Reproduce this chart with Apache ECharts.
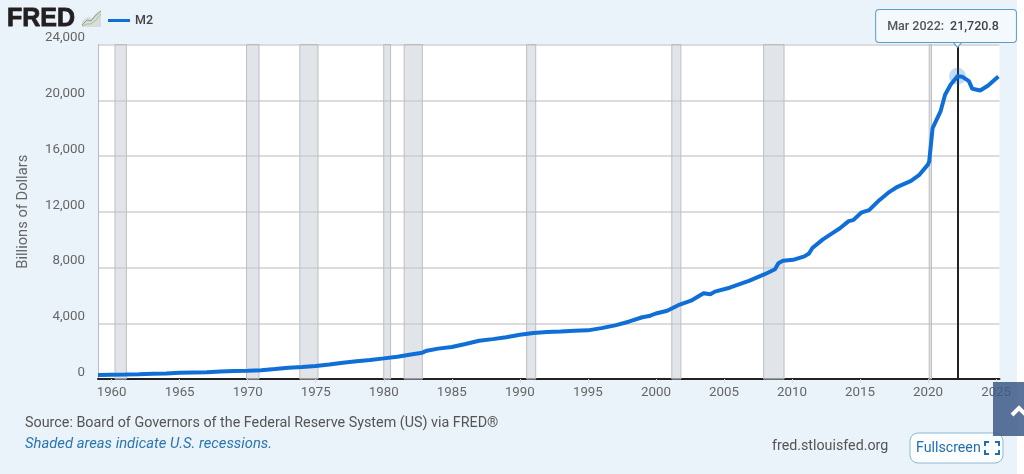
<!DOCTYPE html>
<html>
<head>
<meta charset="utf-8">
<style>
  html, body { margin: 0; padding: 0; background: #fff; }
  #chart { width: 1024px; height: 474px; }
</style>
<script src="https://cdn.jsdelivr.net/npm/echarts@6/dist/echarts.min.js"></script>
</head>
<body>
<div id="chart"></div>
<script>
// M2, billions of dollars
var dates = ['1959-01','1960-01','1961-01','1962-01','1963-01','1964-01','1965-01','1966-01','1967-01','1968-01',
  '1969-01','1970-01','1971-01','1972-01','1973-01','1974-01','1975-01','1976-01','1977-01','1978-01',
  '1979-01','1980-01','1981-01','1982-01','1982-11','1983-03','1984-01','1985-01','1986-01','1987-01',
  '1988-01','1989-01','1990-01','1991-01','1992-01','1993-01','1994-01','1995-01','1996-01','1997-01',
  '1998-01','1999-01','1999-08','2000-01','2000-11','2001-10','2002-08','2003-07','2004-01','2004-05',
  '2005-06','2006-11','2008-01','2008-10','2009-01','2009-05','2010-02','2010-12','2011-04','2011-07',
  '2012-04','2013-01','2013-07','2014-03','2014-07','2015-02','2015-09','2016-06','2017-03','2017-10',
  '2018-10','2019-05','2020-01','2020-02','2020-05','2020-12','2021-04','2021-09','2022-03','2022-07',
  '2023-01','2023-04','2023-11','2024-06','2025-03'];
var m2Values = [285,300,315,340,370,400,440,470,490,540,
  580,590,630,710,810,860,930,1040,1170,1280,
  1370,1480,1600,1760,1890,2030,2180,2300,2510,2740,
  2860,2990,3170,3300,3370,3410,3460,3490,3650,3850,
  4110,4430,4540,4700,4900,5340,5620,6150,6080,6270,
  6550,7040,7520,7880,8310,8480,8550,8800,9000,9400,
  10000,10480,10800,11330,11400,11930,12120,12830,13430,13790,
  14210,14620,15400,15600,18000,19200,20400,21130,21720.8,21690,
  21370,20820,20700,21060,21700];
// NBER recessions, start and end
var recessionStarts = ['1960-04','1969-12','1973-11','1980-01','1981-07','1990-07','2001-03','2007-12','2020-02'];
var recessionEnds = ['1961-02','1970-11','1975-03','1980-07','1982-11','1991-03','2001-11','2009-06','2020-04'];
var tickYears = [1960,1965,1970,1975,1980,1985,1990,1995,2000,2005,2010,2015,2020,2025];
var peakDate = '2022-03';
var peakValue = 21720.8;
var peakLabel = 'Mar 2022:';
var peakText = '21,720.8';

var FONT = 'Roboto';
var BLUE = '#0f6fd6';

var myChart = echarts.init(document.getElementById('chart'));

// the x axis runs in fractional years
function yr(d) {
  var p = d.split('-');
  return +p[0] + (p[1] - 1) / 12;
}

var seriesData = dates.map(function (d, i) {
  return [yr(d), m2Values[i]];
});
var bands = recessionStarts.map(function (d, i) {
  return [{ xAxis: yr(d) }, { xAxis: yr(recessionEnds[i]) }];
});

function text(x, y, str, size, color, extra) {
  var style = { x: x, y: y, text: str, fontFamily: FONT, fontSize: size, fill: color, verticalAlign: 'middle' };
  for (var k in extra) style[k] = extra[k];
  return { type: 'text', z: 50, silent: true, style: style };
}

var option = {
  animation: false,
  backgroundColor: '#eaf2fa',
  textStyle: { fontFamily: FONT },
  grid: { left: 98, right: 24.5, top: 44.5, bottom: 95, show: true, backgroundColor: '#fff', borderWidth: 0 },
  legend: {
    left: 103, top: 9,
    icon: 'rect',
    itemWidth: 22, itemHeight: 3, itemGap: 4,
    textStyle: { color: '#444', fontSize: 12.5, fontWeight: 500, fontFamily: FONT }
  },
  xAxis: {
    type: 'value',
    min: 1959,
    max: yr('2025-04'),
    axisLine: { lineStyle: { color: '#222', width: 2 } },
    axisTick: { customValues: tickYears, length: 4, lineStyle: { color: '#d5dbe2' } },
    axisLabel: {
      customValues: tickYears,
      formatter: function (v) { return String(v); },
      color: '#666', fontSize: 13.3, margin: 7, fontFamily: FONT
    },
    splitLine: { show: false }
  },
  yAxis: {
    type: 'value',
    min: 0, max: 24000, interval: 4000,
    name: 'Billions of Dollars',
    nameLocation: 'middle',
    nameRotate: 90,
    nameGap: 67,
    nameTextStyle: { color: '#666', fontSize: 14.7, fontFamily: FONT },
    axisLine: { show: true, lineStyle: { color: '#bbb', width: 1 } },
    axisTick: { show: false },
    axisLabel: {
      formatter: function (v) { return v.toLocaleString('en-US'); },
      color: '#666', fontSize: 13.3, margin: 13, verticalAlign: 'bottom', lineHeight: 13, fontFamily: FONT
    },
    splitLine: { lineStyle: { color: '#d0d0d0', width: 1.5 } }
  },
  series: [{
    name: 'M2',
    type: 'line',
    data: seriesData,
    symbol: 'none',
    lineStyle: { color: BLUE, width: 4 },
    itemStyle: { color: BLUE },
    z: 5,
    markArea: {
      silent: true,
      itemStyle: { color: 'rgba(195,203,213,0.5)', borderColor: '#bdbdbd', borderWidth: 1 },
      data: bands
    },
    markLine: {
      silent: true,
      symbol: 'none',
      label: { show: false },
      lineStyle: { color: '#222', width: 2, type: 'solid' },
      data: [{ xAxis: yr(peakDate) }]
    },
    markPoint: {
      silent: true,
      data: [{
        coord: [yr(peakDate), peakValue],
        symbol: 'circle', symbolSize: 17,
        itemStyle: { color: 'rgba(15,111,214,0.25)' },
        label: { show: false }
      }, {
        coord: [yr(peakDate), peakValue],
        symbol: 'circle', symbolSize: 4,
        itemStyle: { color: BLUE },
        label: { show: false }
      }, {
        coord: [yr(peakDate), 24000],
        symbol: 'triangle', symbolSize: [10, 6], symbolRotate: 180, symbolOffset: [0, 0],
        itemStyle: { color: '#f4f9fd', borderColor: '#5b9cc8', borderWidth: 1 },
        label: {
          show: true,
          position: 'top',
          distance: 0,
          offset: [-11.5, 1],
          formatter: '{a|' + peakLabel + '}  {b|' + peakText + '}',
          backgroundColor: '#f4f9fd',
          borderColor: '#5b9cc8',
          borderWidth: 1,
          borderRadius: 3,
          padding: [10, 17, 9, 11],
          rich: {
            a: { color: '#555', fontSize: 12.5, fontWeight: 500, fontFamily: FONT },
            b: { color: '#444', fontSize: 12.5, fontWeight: 500, fontFamily: FONT }
          }
        }
      }]
    }
  }],
  graphic: [
    // page strip right of the panel
    { type: 'rect', z: 40, silent: true, shape: { x: 1017, y: 0, width: 7, height: 474 }, style: { fill: '#fff' } },
    // logo
    text(7, 19, 'FRED', 25, '#231f20', { fontFamily: 'Liberation Sans', fontWeight: 'bold', stroke: '#231f20', lineWidth: 0.8 }),
    { type: 'polygon', z: 50, silent: true, shape: { points: [[82,27],[82,21],[88,17],[92,18],[96,13],[101,10],[101,27]] }, style: { fill: '#d8dcdc' } },
    { type: 'polyline', z: 51, silent: true, shape: { points: [[82,25],[87,20],[91,21],[95,16],[101,11]] }, style: { stroke: '#8a9e8a', lineWidth: 1, fill: 'none' } },
    { type: 'polyline', z: 51, silent: true, shape: { points: [[82,26],[87,24],[91,24],[96,20],[101,14]] }, style: { stroke: '#a9c48d', lineWidth: 1, fill: 'none' } },
    // footer
    text(25, 423, 'Source: Board of Governors of the Federal Reserve System (US) via FRED\u00ae', 14.33, '#555'),
    text(25, 444, 'Shaded areas indicate U.S. recessions.', 14.8, '#2a75ad', { fontStyle: 'italic' }),
    text(772, 446, 'fred.stlouisfed.org', 14.25, '#555'),
    // fullscreen button
    { type: 'rect', z: 49, silent: true, shape: { x: 910, y: 433, width: 93, height: 30, r: 8 }, style: { fill: '#fbfdff', stroke: '#8db8d6', lineWidth: 1 } },
    text(916, 448, 'Fullscreen', 14.2, '#1f6fb0'),
    { type: 'polyline', z: 51, silent: true, shape: { points: [[985,446],[985,442],[989,442]] }, style: { stroke: '#1f6fb0', lineWidth: 2, fill: 'none' } },
    { type: 'polyline', z: 51, silent: true, shape: { points: [[995,442],[999,442],[999,446]] }, style: { stroke: '#1f6fb0', lineWidth: 2, fill: 'none' } },
    { type: 'polyline', z: 51, silent: true, shape: { points: [[985,450],[985,454],[989,454]] }, style: { stroke: '#1f6fb0', lineWidth: 2, fill: 'none' } },
    { type: 'polyline', z: 51, silent: true, shape: { points: [[995,454],[999,454],[999,450]] }, style: { stroke: '#1f6fb0', lineWidth: 2, fill: 'none' } },
    // back to top button
    { type: 'rect', z: 60, silent: true, shape: { x: 993, y: 382, width: 31, height: 54 }, style: { fill: 'rgba(62,90,135,0.85)' } },
    { type: 'polyline', z: 61, silent: true, shape: { points: [[1012,415],[1019,408],[1026,415]] }, style: { stroke: '#fff', lineWidth: 4, fill: 'none' } }
  ]
};

myChart.setOption(option);
</script>
</body>
</html>
